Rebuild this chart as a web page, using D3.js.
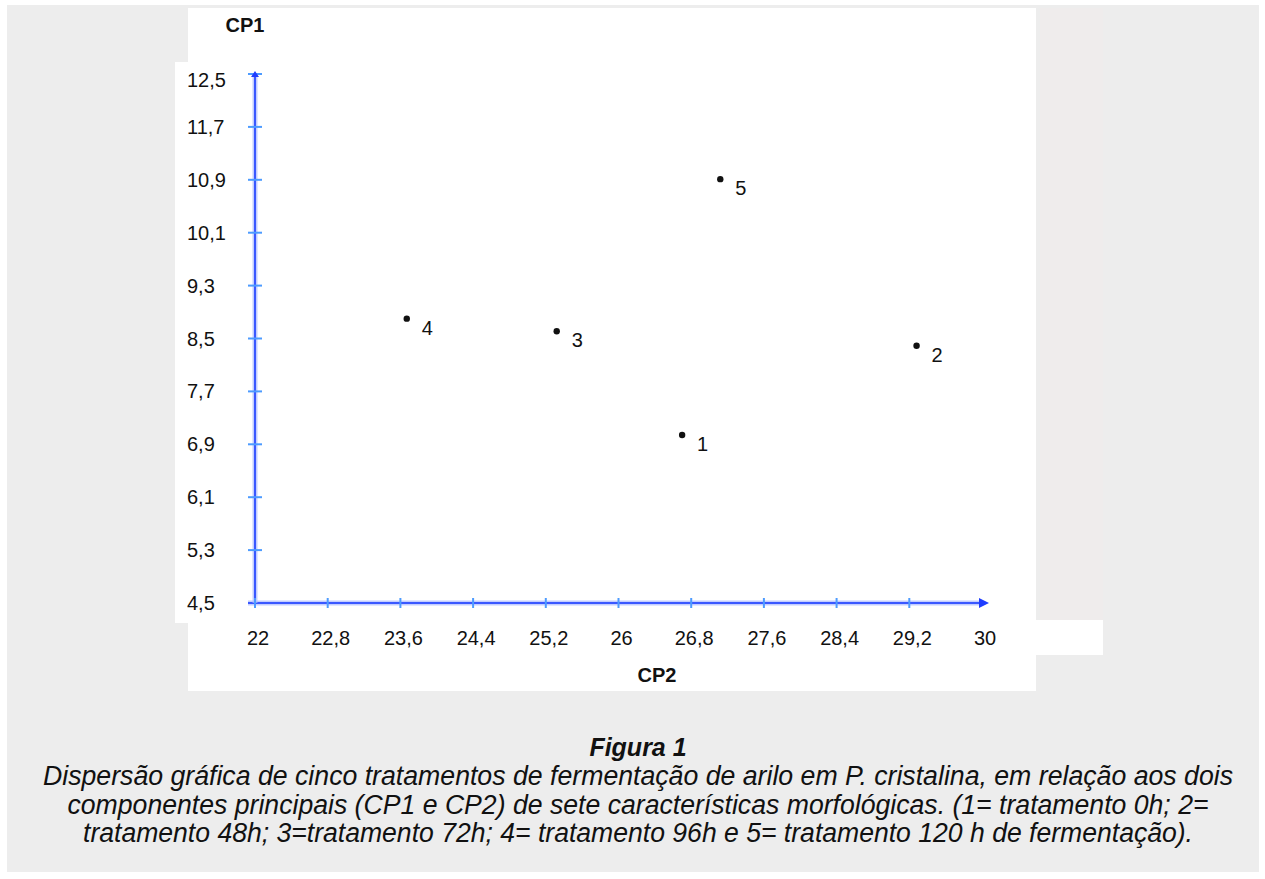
<!DOCTYPE html>
<html>
<head>
<meta charset="utf-8">
<script src="https://cdn.jsdelivr.net/npm/d3@7"></script>
<style>
  body { margin: 0; background: #fff; }
  svg { display: block; font-family: "Liberation Sans", Arial, sans-serif; }
</style>
</head>
<body>
<svg></svg>
<script>

// tratamentos (rótulos dos pontos) e coordenadas
var tratamentos = ["1", "2", "3", "4", "5"];
var valoresCP2 = [26.70, 29.28, 25.32, 23.67, 27.12];
var valoresCP1 = [7.04, 8.39, 8.61, 8.80, 10.91];

var xTicks = [22, 22.8, 23.6, 24.4, 25.2, 26, 26.8, 27.6, 28.4, 29.2, 30];
var xTickLabels = ["22", "22,8", "23,6", "24,4", "25,2", "26", "26,8", "27,6", "28,4", "29,2", "30"];
var yTicks = [4.5, 5.3, 6.1, 6.9, 7.7, 8.5, 9.3, 10.1, 10.9, 11.7, 12.5];
var yTickLabels = ["4,5", "5,3", "6,1", "6,9", "7,7", "8,5", "9,3", "10,1", "10,9", "11,7", "12,5"];

var tituloFigura = "Figura 1";
var legenda = [
  "Dispersão gráfica de cinco tratamentos de fermentação de arilo em P. cristalina, em relação aos dois",
  "componentes principais (CP1 e CP2) de sete características morfológicas. (1= tratamento 0h; 2=",
  "tratamento 48h; 3=tratamento 72h; 4= tratamento 96h e 5= tratamento 120 h de fermentação)."
];

var data = tratamentos.map(function(t, i){
  return { nome: t, cp2: valoresCP2[i], cp1: valoresCP1[i] };
});

var width = 1265;
var height = 879;

var AXIS_BLUE = "#3a58ff";
var GLOW_BLUE = "#a9b8ff";
var TICK_BLUE = "#4d9bff";
var FONT_SIZE = 20;

var svg = d3.select('svg').attr("width", width).attr("height", height);

var x = d3.scaleLinear().domain([22, 30]).range([255, 982]);
var y = d3.scaleLinear().domain([4.5, 12.5]).range([603, 74]);

// fundo cinza e painel branco do gráfico
svg.append('rect').attr('x', 7).attr('y', 5).attr('width', 1252).attr('height', 867).attr('fill', '#ededed');
svg.append('rect').attr('x', 1040).attr('y', 8).attr('width', 63).attr('height', 612).attr('fill', '#efecec');
svg.append('rect').attr('x', 188).attr('y', 8).attr('width', 848).attr('height', 683).attr('fill', '#fff');
svg.append('rect').attr('x', 175).attr('y', 62).attr('width', 861).attr('height', 561).attr('fill', '#fff');
svg.append('rect').attr('x', 1030).attr('y', 620).attr('width', 73).attr('height', 35).attr('fill', '#fff');

// eixos
var eixos = svg.append('g');

function linhaEixo(x1, y1, x2, y2){
  eixos.append('line')
    .attr('x1', x1).attr('y1', y1).attr('x2', x2).attr('y2', y2)
    .attr('stroke', GLOW_BLUE).attr('stroke-width', 5).attr('stroke-opacity', 0.7);
  eixos.append('line')
    .attr('x1', x1).attr('y1', y1).attr('x2', x2).attr('y2', y2)
    .attr('stroke', AXIS_BLUE).attr('stroke-width', 2);
}

linhaEixo(x(22) - 7, y(4.5), x(30), y(4.5));
linhaEixo(x(22), y(4.5), x(22), y(12.5) + 2);

// ticks
eixos.selectAll('.xtick').data(xTicks.slice(0, -1)).enter().append('line')
  .attr('x1', function(d){ return x(d); })
  .attr('x2', function(d){ return x(d); })
  .attr('y1', y(4.5) - 5)
  .attr('y2', y(4.5) + 5)
  .attr('stroke', TICK_BLUE).attr('stroke-width', 2);

eixos.selectAll('.ytick').data(yTicks.slice(1)).enter().append('line')
  .attr('x1', x(22) - 7)
  .attr('x2', x(22) + 7)
  .attr('y1', function(d){ return y(d); })
  .attr('y2', function(d){ return y(d); })
  .attr('stroke', TICK_BLUE).attr('stroke-width', 2);

// setas
var xEnd = x(30);
eixos.append('path')
  .attr('d', 'M' + (xEnd - 3) + ',' + (y(4.5) - 5) + 'L' + (xEnd + 7) + ',' + y(4.5) + 'L' + (xEnd - 3) + ',' + (y(4.5) + 5) + 'Z')
  .attr('fill', '#1f3dff');
var yEnd = y(12.5);
eixos.append('path')
  .attr('d', 'M' + (x(22) - 4) + ',' + (yEnd + 3) + 'L' + x(22) + ',' + (yEnd - 3) + 'L' + (x(22) + 4) + ',' + (yEnd + 3) + 'Z')
  .attr('fill', '#1f3dff');

// rótulos dos ticks
svg.append('g').selectAll('text').data(xTicks).enter().append('text')
  .attr('x', function(d){ return x(d) + 3; })
  .attr('y', 645)
  .attr('text-anchor', 'middle')
  .attr('font-size', FONT_SIZE)
  .attr('fill', '#111')
  .text(function(d, i){ return xTickLabels[i]; });

svg.append('g').selectAll('text').data(yTicks).enter().append('text')
  .attr('x', 187)
  .attr('y', function(d){ return y(d) + 7 + (d === 12.5 ? 6 : 0); })
  .attr('font-size', FONT_SIZE)
  .attr('fill', '#111')
  .text(function(d, i){ return yTickLabels[i]; });

// títulos dos eixos
svg.append('text').attr('x', 245).attr('y', 32).attr('text-anchor', 'middle')
  .attr('font-size', FONT_SIZE).attr('font-weight', 'bold').attr('fill', '#111').text('CP1');
svg.append('text').attr('x', 657).attr('y', 682).attr('text-anchor', 'middle')
  .attr('font-size', FONT_SIZE).attr('font-weight', 'bold').attr('fill', '#111').text('CP2');

// pontos
var pontos = svg.append('g').selectAll('g')
  .data(data)
  .enter()
  .append('g')
  .each(function(d){
    var g = d3.select(this);
    g.append('circle')
      .attr('r', 3.2)
      .attr('fill', '#111');
    g.append('text')
      .attr('x', 15)
      .attr('y', 16)
      .attr('font-size', FONT_SIZE)
      .attr('fill', '#111')
      .text(d.nome);
  })
  .attr('transform', function(d){
    return 'translate(' + x(d.cp2) + ',' + y(d.cp1) + ')';
  });

// legenda da figura
var centroX = 638;
svg.append('text')
  .attr('x', centroX).attr('y', 756)
  .attr('text-anchor', 'middle')
  .attr('font-size', 25).attr('font-weight', 'bold').attr('font-style', 'italic')
  .attr('fill', '#111')
  .text(tituloFigura);

var larguras = [1190, 1141, 1110];
svg.append('g').selectAll('text').data(legenda).enter().append('text')
  .attr('x', function(d, i){ return centroX - larguras[i] / 2; })
  .attr('y', function(d, i){ return 785 + i * 28.5; })
  .attr('textLength', function(d, i){ return larguras[i]; })
  .attr('lengthAdjust', 'spacingAndGlyphs')
  .attr('font-size', 27).attr('font-style', 'italic')
  .attr('fill', '#111')
  .text(function(d){ return d; });

</script>
</body>
</html>
